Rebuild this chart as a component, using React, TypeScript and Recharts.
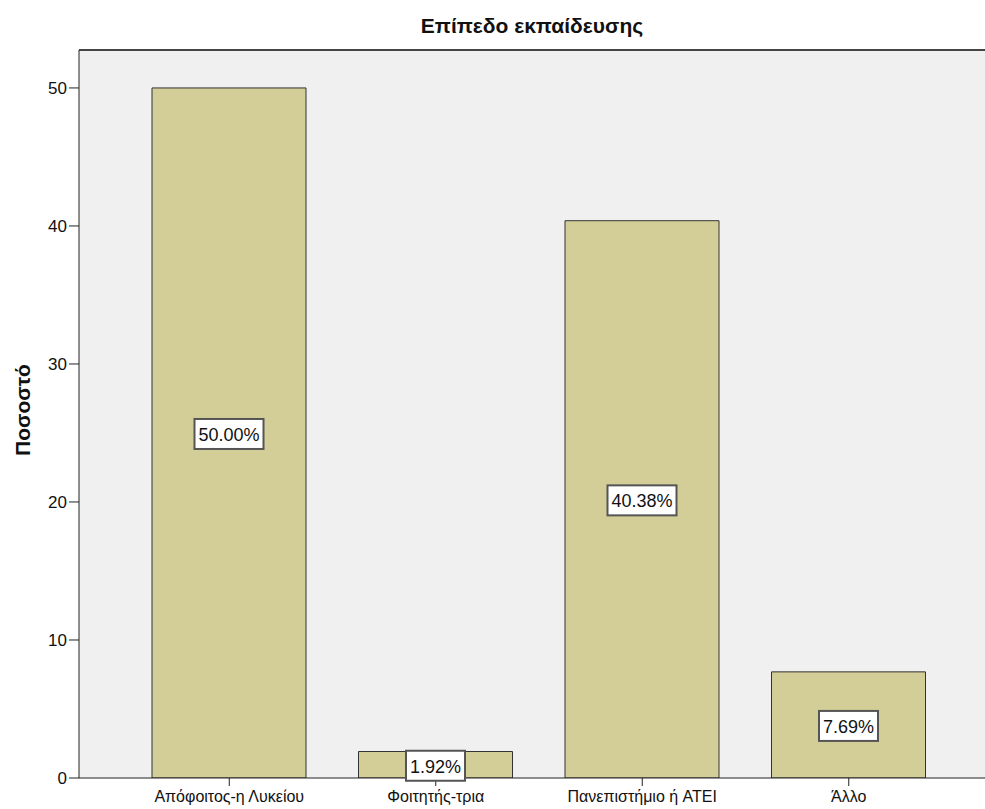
import React from "react";
import {
  BarChart,
  Bar,
  XAxis,
  YAxis,
  CartesianGrid,
  ReferenceLine,
  LabelList,
} from "recharts";

const categories = [
  "Απόφοιτος-η Λυκείου",
  "Φοιτητής-τρια",
  "Πανεπιστήμιο ή ATEI",
  "Άλλο",
];
const percents = [50.0, 1.92, 40.38, 7.69];
const yTicks = [0, 10, 20, 30, 40, 50];

const data = categories.map((name, i) => ({ name, pct: percents[i] }));

const FONT = "'Liberation Sans', Arial, sans-serif";
const Y_MAX = 52.75;

// white boxed percentage label in the middle of each bar
function ValueBox(props: any) {
  const { x, y, width, height, value } = props;
  const text = `${Number(value).toFixed(2)}%`;
  const w = text.length * 10 + 9;
  const h = 30;
  const cx = x + width / 2;
  const cy = y + height / 2 + 1;
  return (
    <g>
      <rect
        x={cx - w / 2}
        y={cy - h / 2}
        width={w}
        height={h}
        fill="#ffffff"
        stroke="#555"
        strokeWidth={2}
      />
      <text
        x={cx}
        y={cy + 1}
        textAnchor="middle"
        dominantBaseline="central"
        fontFamily={FONT}
        fontSize={18}
        fill="#111"
      >
        {text}
      </text>
    </g>
  );
}

export default function App() {
  return (
    <div
      style={{
        position: "absolute",
        left: 0,
        top: 0,
        width: 985,
        height: 809,
        overflow: "hidden",
        background: "#fff",
        fontFamily: FONT,
      }}
    >
      <div
        style={{
          position: "absolute",
          top: 15,
          left: 79,
          width: 906,
          textAlign: "center",
          fontWeight: "bold",
          fontSize: 21,
          lineHeight: "21px",
          color: "#111",
        }}
      >
        Επίπεδο εκπαίδευσης
      </div>
      <div
        style={{
          position: "absolute",
          left: 22,
          top: 410,
          transform: "translate(-50%, -50%) rotate(-90deg)",
          fontWeight: "bold",
          fontSize: 21,
          lineHeight: "21px",
          color: "#111",
          whiteSpace: "nowrap",
        }}
      >
        Ποσοστό
      </div>
      <BarChart
        width={985}
        height={809}
        data={data}
        margin={{ top: 50, right: 0, left: 0, bottom: 0 }}
        barSize={154}
      >
        <CartesianGrid
          fill="#f0f0f0"
          horizontal={false}
          vertical={false}
          stroke="none"
        />
        <XAxis
          dataKey="name"
          height={31}
          padding={{ left: 47, right: 33 }}
          tickSize={8}
          tickMargin={5}
          stroke="#222"
          tick={{ fill: "#111", fontSize: 16, fontFamily: FONT }}
          interval={0}
        />
        <YAxis
          width={79}
          domain={[0, Y_MAX]}
          ticks={yTicks}
          tickSize={10}
          tickMargin={2}
          stroke="#222"
          tick={{ fill: "#111", fontSize: 17, fontFamily: FONT }}
          allowDataOverflow
        />
        <ReferenceLine y={Y_MAX} stroke="#444" strokeWidth={2} />
        <Bar
          dataKey="pct"
          fill="#d3ce97"
          stroke="#333"
          strokeWidth={1}
          isAnimationActive={false}
        >
          <LabelList dataKey="pct" content={<ValueBox />} />
        </Bar>
      </BarChart>
    </div>
  );
}
